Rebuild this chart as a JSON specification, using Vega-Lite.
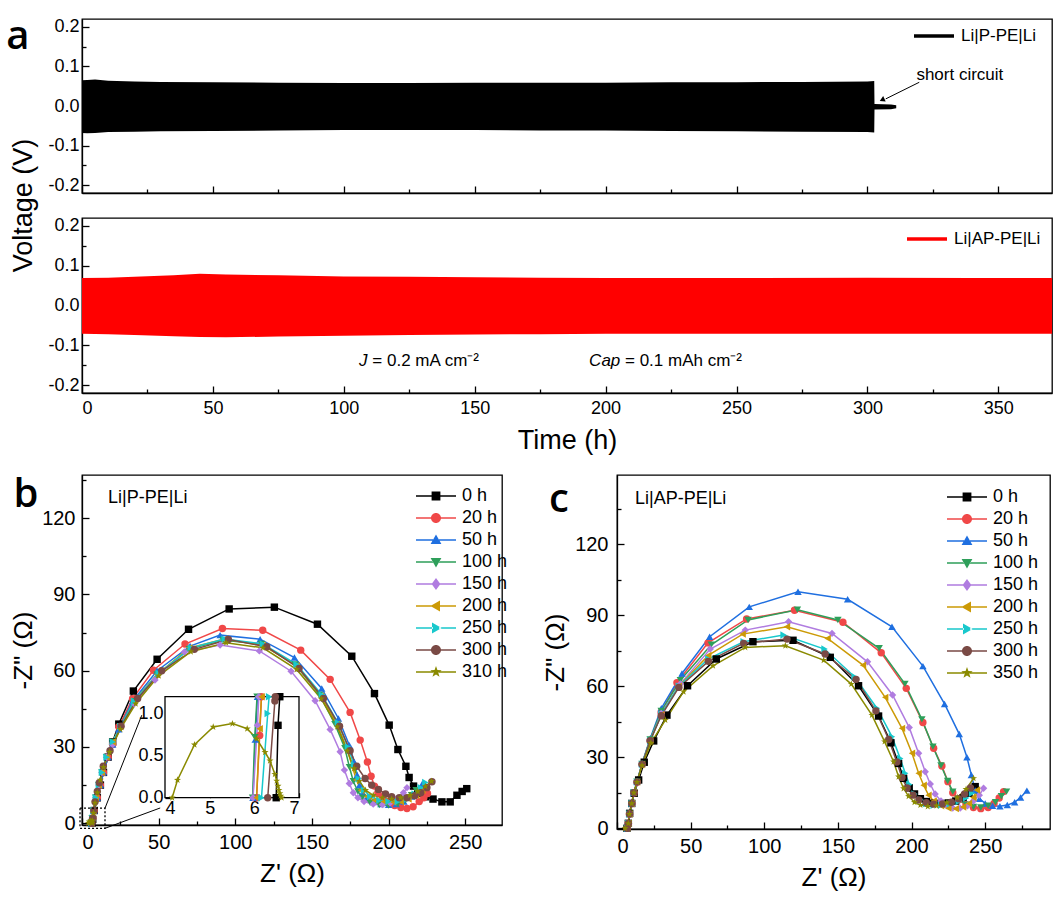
{
"$schema": "https://vega.github.io/schema/vega-lite/v6.json",
"padding": {"left": 5, "top": 13, "right": 0, "bottom": 5},
"background": "white",
"config": {
  "font": "Liberation Sans",
  "view": {"stroke": "#000000", "strokeWidth": 1.3},
  "axis": {"grid": false, "domainColor": "#000000", "domainWidth": 1.3, "tickColor": "#000000", "tickWidth": 1.3, "tickSize": -7, "labelColor": "#000000", "titleColor": "#000000", "labelFont": "Liberation Sans", "titleFont": "Liberation Sans", "titleFontWeight": "normal", "labelFontSize": 18, "titleFontSize": 27, "labelPadding": 6},
  "legend": {"labelFont": "Liberation Sans", "labelColor": "#000000", "labelFontSize": 18, "padding": 0, "symbolStrokeWidth": 0, "symbolOpacity": 1}
},
"datasets": {
  "v1": [
    {"cell":"Li|P-PE|Li","t":0,"hi":0.065,"lo":-0.068},
    {"cell":"Li|P-PE|Li","t":2,"hi":0.066,"lo":-0.069},
    {"cell":"Li|P-PE|Li","t":5,"hi":0.067,"lo":-0.068},
    {"cell":"Li|P-PE|Li","t":10,"hi":0.064,"lo":-0.066},
    {"cell":"Li|P-PE|Li","t":20,"hi":0.062,"lo":-0.065},
    {"cell":"Li|P-PE|Li","t":30,"hi":0.061,"lo":-0.064},
    {"cell":"Li|P-PE|Li","t":50,"hi":0.06,"lo":-0.063},
    {"cell":"Li|P-PE|Li","t":75,"hi":0.059,"lo":-0.062},
    {"cell":"Li|P-PE|Li","t":100,"hi":0.058,"lo":-0.061},
    {"cell":"Li|P-PE|Li","t":125,"hi":0.058,"lo":-0.061},
    {"cell":"Li|P-PE|Li","t":150,"hi":0.059,"lo":-0.061},
    {"cell":"Li|P-PE|Li","t":175,"hi":0.059,"lo":-0.062},
    {"cell":"Li|P-PE|Li","t":200,"hi":0.059,"lo":-0.062},
    {"cell":"Li|P-PE|Li","t":225,"hi":0.06,"lo":-0.063},
    {"cell":"Li|P-PE|Li","t":250,"hi":0.06,"lo":-0.064},
    {"cell":"Li|P-PE|Li","t":275,"hi":0.061,"lo":-0.065},
    {"cell":"Li|P-PE|Li","t":300,"hi":0.062,"lo":-0.066},
    {"cell":"Li|P-PE|Li","t":302.6,"hi":0.063,"lo":-0.067},
    {"cell":"Li|P-PE|Li","t":302.7,"hi":0.005,"lo":-0.009},
    {"cell":"Li|P-PE|Li","t":309,"hi":0.004,"lo":-0.008},
    {"cell":"Li|P-PE|Li","t":311,"hi":0.002,"lo":-0.006}
  ],
  "v2": [
    {"cell":"Li|AP-PE|Li","t":0,"hi":0.069,"lo":-0.071},
    {"cell":"Li|AP-PE|Li","t":10,"hi":0.07,"lo":-0.072},
    {"cell":"Li|AP-PE|Li","t":20,"hi":0.072,"lo":-0.074},
    {"cell":"Li|AP-PE|Li","t":35,"hi":0.076,"lo":-0.077},
    {"cell":"Li|AP-PE|Li","t":45,"hi":0.08,"lo":-0.079},
    {"cell":"Li|AP-PE|Li","t":55,"hi":0.078,"lo":-0.08},
    {"cell":"Li|AP-PE|Li","t":75,"hi":0.076,"lo":-0.078},
    {"cell":"Li|AP-PE|Li","t":100,"hi":0.073,"lo":-0.076},
    {"cell":"Li|AP-PE|Li","t":125,"hi":0.072,"lo":-0.074},
    {"cell":"Li|AP-PE|Li","t":150,"hi":0.071,"lo":-0.073},
    {"cell":"Li|AP-PE|Li","t":175,"hi":0.07,"lo":-0.072},
    {"cell":"Li|AP-PE|Li","t":200,"hi":0.069,"lo":-0.071},
    {"cell":"Li|AP-PE|Li","t":250,"hi":0.069,"lo":-0.071},
    {"cell":"Li|AP-PE|Li","t":300,"hi":0.07,"lo":-0.071},
    {"cell":"Li|AP-PE|Li","t":340,"hi":0.069,"lo":-0.071},
    {"cell":"Li|AP-PE|Li","t":370.5,"hi":0.069,"lo":-0.071}
  ],
  "b": [
    {"series":"0 h","zr":6.5,"zi":0},{"series":"0 h","zr":7,"zi":1.5},{"series":"0 h","zr":8,"zi":5},{"series":"0 h","zr":10,"zi":10},{"series":"0 h","zr":12,"zi":15},{"series":"0 h","zr":14,"zi":20},{"series":"0 h","zr":17,"zi":26},{"series":"0 h","zr":20,"zi":32},{"series":"0 h","zr":24,"zi":39},{"series":"0 h","zr":33.5,"zi":52},{"series":"0 h","zr":49,"zi":64.5},{"series":"0 h","zr":69.5,"zi":76.3},{"series":"0 h","zr":96,"zi":84.3},{"series":"0 h","zr":125.5,"zi":85},{"series":"0 h","zr":153.6,"zi":78.3},{"series":"0 h","zr":176,"zi":65.7},{"series":"0 h","zr":190.8,"zi":51},{"series":"0 h","zr":200.4,"zi":38.6},{"series":"0 h","zr":206.1,"zi":29},{"series":"0 h","zr":211.3,"zi":22.4},{"series":"0 h","zr":213.4,"zi":18},{"series":"0 h","zr":216.3,"zi":14.6},{"series":"0 h","zr":219,"zi":11.7},{"series":"0 h","zr":224,"zi":10.4},{"series":"0 h","zr":229,"zi":9.5},{"series":"0 h","zr":234.8,"zi":8.4},{"series":"0 h","zr":240.2,"zi":8.4},{"series":"0 h","zr":244.6,"zi":11},{"series":"0 h","zr":248,"zi":12.5},{"series":"0 h","zr":251,"zi":13.6},
    {"series":"20 h","zr":6.2,"zi":0},{"series":"20 h","zr":7,"zi":2},{"series":"20 h","zr":8,"zi":5},{"series":"20 h","zr":10,"zi":10},{"series":"20 h","zr":12,"zi":15},{"series":"20 h","zr":14,"zi":20},{"series":"20 h","zr":17,"zi":26},{"series":"20 h","zr":20,"zi":31},{"series":"20 h","zr":24,"zi":38},{"series":"20 h","zr":33,"zi":49},{"series":"20 h","zr":46.6,"zi":60.2},{"series":"20 h","zr":67.2,"zi":70.5},{"series":"20 h","zr":91.6,"zi":76.6},{"series":"20 h","zr":117.9,"zi":75.9},{"series":"20 h","zr":142.7,"zi":68.1},{"series":"20 h","zr":161.9,"zi":56.6},{"series":"20 h","zr":174.9,"zi":43.6},{"series":"20 h","zr":181.5,"zi":32.7},{"series":"20 h","zr":186.2,"zi":24.1},{"series":"20 h","zr":188.6,"zi":18.5},{"series":"20 h","zr":190.8,"zi":14.6},{"series":"20 h","zr":193,"zi":12},{"series":"20 h","zr":196,"zi":10.4},{"series":"20 h","zr":200,"zi":8.5},{"series":"20 h","zr":204,"zi":7},{"series":"20 h","zr":208,"zi":6.2},{"series":"20 h","zr":212,"zi":5.8},{"series":"20 h","zr":216,"zi":6.5},{"series":"20 h","zr":220,"zi":8.5},{"series":"20 h","zr":223,"zi":10},{"series":"20 h","zr":225.4,"zi":11.7},
    {"series":"50 h","zr":6.1,"zi":0},{"series":"50 h","zr":7,"zi":2},{"series":"50 h","zr":8,"zi":5},{"series":"50 h","zr":10,"zi":10},{"series":"50 h","zr":12,"zi":15},{"series":"50 h","zr":14,"zi":20},{"series":"50 h","zr":17,"zi":26},{"series":"50 h","zr":20,"zi":31},{"series":"50 h","zr":24,"zi":37},{"series":"50 h","zr":33,"zi":48},{"series":"50 h","zr":49,"zi":60},{"series":"50 h","zr":70.5,"zi":69.7},{"series":"50 h","zr":90.1,"zi":74},{"series":"50 h","zr":116.2,"zi":72.4},{"series":"50 h","zr":138.6,"zi":65.2},{"series":"50 h","zr":156.4,"zi":53},{"series":"50 h","zr":167.3,"zi":41.2},{"series":"50 h","zr":174.4,"zi":30.7},{"series":"50 h","zr":177.6,"zi":24.1},{"series":"50 h","zr":179.5,"zi":19},{"series":"50 h","zr":181,"zi":15},{"series":"50 h","zr":183,"zi":12},{"series":"50 h","zr":186,"zi":10},{"series":"50 h","zr":190,"zi":8.5},{"series":"50 h","zr":195,"zi":7.5},{"series":"50 h","zr":200,"zi":7.3},{"series":"50 h","zr":205,"zi":7.5},{"series":"50 h","zr":210,"zi":8.5},{"series":"50 h","zr":215,"zi":10.5},{"series":"50 h","zr":219,"zi":13},{"series":"50 h","zr":222,"zi":15.5},
    {"series":"100 h","zr":6,"zi":0},{"series":"100 h","zr":6.6,"zi":2},{"series":"100 h","zr":7.5,"zi":5},{"series":"100 h","zr":9,"zi":10},{"series":"100 h","zr":11,"zi":15},{"series":"100 h","zr":13,"zi":20},{"series":"100 h","zr":16,"zi":26},{"series":"100 h","zr":20,"zi":32},{"series":"100 h","zr":25,"zi":38},{"series":"100 h","zr":34,"zi":48},{"series":"100 h","zr":49,"zi":58.5},{"series":"100 h","zr":70,"zi":68.5},{"series":"100 h","zr":92,"zi":72},{"series":"100 h","zr":117,"zi":70.5},{"series":"100 h","zr":139,"zi":62.5},{"series":"100 h","zr":155,"zi":50.5},{"series":"100 h","zr":165,"zi":39},{"series":"100 h","zr":171.5,"zi":29.5},{"series":"100 h","zr":174.5,"zi":22},{"series":"100 h","zr":177,"zi":16.5},{"series":"100 h","zr":180,"zi":12.5},{"series":"100 h","zr":183,"zi":10},{"series":"100 h","zr":188,"zi":8},{"series":"100 h","zr":194,"zi":7.2},{"series":"100 h","zr":200,"zi":7},{"series":"100 h","zr":206,"zi":7.5},{"series":"100 h","zr":211,"zi":9},{"series":"100 h","zr":215,"zi":11},{"series":"100 h","zr":218,"zi":13},
    {"series":"150 h","zr":6,"zi":0},{"series":"150 h","zr":6.6,"zi":2},{"series":"150 h","zr":7.5,"zi":5},{"series":"150 h","zr":9,"zi":10},{"series":"150 h","zr":11,"zi":15},{"series":"150 h","zr":13,"zi":20},{"series":"150 h","zr":16,"zi":26},{"series":"150 h","zr":20,"zi":31},{"series":"150 h","zr":25,"zi":38},{"series":"150 h","zr":34,"zi":47},{"series":"150 h","zr":47.6,"zi":56.3},{"series":"150 h","zr":66.8,"zi":67.4},{"series":"150 h","zr":90.1,"zi":70.1},{"series":"150 h","zr":115.7,"zi":67.8},{"series":"150 h","zr":136.4,"zi":59.8},{"series":"150 h","zr":152.1,"zi":48.2},{"series":"150 h","zr":161.9,"zi":36.9},{"series":"150 h","zr":168.4,"zi":28.1},{"series":"150 h","zr":171.2,"zi":20.9},{"series":"150 h","zr":174.4,"zi":15.6},{"series":"150 h","zr":177,"zi":12},{"series":"150 h","zr":180,"zi":10},{"series":"150 h","zr":184,"zi":8.5},{"series":"150 h","zr":190,"zi":7.5},{"series":"150 h","zr":196,"zi":7.3},{"series":"150 h","zr":201,"zi":8},{"series":"150 h","zr":205,"zi":9.5},{"series":"150 h","zr":209.7,"zi":12},{"series":"150 h","zr":212,"zi":14},
    {"series":"200 h","zr":6.1,"zi":0},{"series":"200 h","zr":6.7,"zi":2},{"series":"200 h","zr":7.6,"zi":5},{"series":"200 h","zr":9,"zi":10},{"series":"200 h","zr":11,"zi":15},{"series":"200 h","zr":13,"zi":20},{"series":"200 h","zr":16,"zi":26},{"series":"200 h","zr":20,"zi":32},{"series":"200 h","zr":25,"zi":38},{"series":"200 h","zr":34,"zi":48},{"series":"200 h","zr":49,"zi":58.5},{"series":"200 h","zr":70,"zi":69},{"series":"200 h","zr":93,"zi":72.5},{"series":"200 h","zr":118,"zi":70},{"series":"200 h","zr":140,"zi":62},{"series":"200 h","zr":156,"zi":50},{"series":"200 h","zr":166.5,"zi":39},{"series":"200 h","zr":173,"zi":29},{"series":"200 h","zr":176.5,"zi":22},{"series":"200 h","zr":179,"zi":17},{"series":"200 h","zr":182,"zi":13},{"series":"200 h","zr":186,"zi":10.5},{"series":"200 h","zr":191,"zi":9},{"series":"200 h","zr":197,"zi":8.5},{"series":"200 h","zr":203,"zi":8.3},{"series":"200 h","zr":208,"zi":8.5},{"series":"200 h","zr":213,"zi":9.5},{"series":"200 h","zr":218,"zi":11},{"series":"200 h","zr":222,"zi":13},
    {"series":"250 h","zr":6.25,"zi":0},{"series":"250 h","zr":6.8,"zi":2},{"series":"250 h","zr":7.7,"zi":5},{"series":"250 h","zr":9,"zi":10},{"series":"250 h","zr":11,"zi":15},{"series":"250 h","zr":13,"zi":20},{"series":"250 h","zr":16,"zi":26},{"series":"250 h","zr":20,"zi":32},{"series":"250 h","zr":25,"zi":38},{"series":"250 h","zr":34,"zi":48},{"series":"250 h","zr":50,"zi":59},{"series":"250 h","zr":71,"zi":69},{"series":"250 h","zr":93,"zi":72.5},{"series":"250 h","zr":118,"zi":70.5},{"series":"250 h","zr":140,"zi":62.5},{"series":"250 h","zr":156.5,"zi":50.5},{"series":"250 h","zr":167,"zi":39.5},{"series":"250 h","zr":173.5,"zi":30},{"series":"250 h","zr":177.5,"zi":23},{"series":"250 h","zr":180.5,"zi":17.5},{"series":"250 h","zr":184,"zi":13},{"series":"250 h","zr":188,"zi":10.5},{"series":"250 h","zr":194,"zi":9},{"series":"250 h","zr":200,"zi":8.5},{"series":"250 h","zr":206,"zi":8.5},{"series":"250 h","zr":212,"zi":9.5},{"series":"250 h","zr":217,"zi":11.5},{"series":"250 h","zr":221,"zi":14},{"series":"250 h","zr":224,"zi":16},
    {"series":"300 h","zr":6.45,"zi":0},{"series":"300 h","zr":7,"zi":2},{"series":"300 h","zr":7.8,"zi":5},{"series":"300 h","zr":8.5,"zi":8.4},{"series":"300 h","zr":10,"zi":12.5},{"series":"300 h","zr":11.3,"zi":15.9},{"series":"300 h","zr":13.9,"zi":22.4},{"series":"300 h","zr":18.3,"zi":28.5},{"series":"300 h","zr":25.5,"zi":38.2},{"series":"300 h","zr":36.3,"zi":49.1},{"series":"300 h","zr":52,"zi":60},{"series":"300 h","zr":73.3,"zi":68.4},{"series":"300 h","zr":95.5,"zi":72.3},{"series":"300 h","zr":120.5,"zi":69.4},{"series":"300 h","zr":141.6,"zi":60.9},{"series":"300 h","zr":157.5,"zi":49.1},{"series":"300 h","zr":168,"zi":38.2},{"series":"300 h","zr":174.9,"zi":28.5},{"series":"300 h","zr":179.2,"zi":22.4},{"series":"300 h","zr":184.7,"zi":17.6},{"series":"300 h","zr":189,"zi":15},{"series":"300 h","zr":193.4,"zi":13.3},{"series":"300 h","zr":198,"zi":11.5},{"series":"300 h","zr":202,"zi":10.4},{"series":"300 h","zr":207,"zi":10},{"series":"300 h","zr":212,"zi":10},{"series":"300 h","zr":217,"zi":10.8},{"series":"300 h","zr":221,"zi":12},{"series":"300 h","zr":225,"zi":14},{"series":"300 h","zr":228.3,"zi":16.3},
    {"series":"310 h","zr":4.2,"zi":0},{"series":"310 h","zr":4.7,"zi":0.6},{"series":"310 h","zr":5.5,"zi":0.9},{"series":"310 h","zr":6.2,"zi":0.6},{"series":"310 h","zr":6.6,"zi":0.05},{"series":"310 h","zr":6.8,"zi":1},{"series":"310 h","zr":7.5,"zi":4},{"series":"310 h","zr":8.5,"zi":8},{"series":"310 h","zr":10,"zi":12},{"series":"310 h","zr":12,"zi":17},{"series":"310 h","zr":14,"zi":22},{"series":"310 h","zr":18,"zi":28},{"series":"310 h","zr":25,"zi":37},{"series":"310 h","zr":35,"zi":47},{"series":"310 h","zr":50,"zi":58},{"series":"310 h","zr":71,"zi":67.5},{"series":"310 h","zr":94,"zi":71},{"series":"310 h","zr":118,"zi":69},{"series":"310 h","zr":140,"zi":60.5},{"series":"310 h","zr":156,"zi":49},{"series":"310 h","zr":166.5,"zi":38},{"series":"310 h","zr":173,"zi":28.5},{"series":"310 h","zr":177.5,"zi":21.5},{"series":"310 h","zr":181,"zi":16.5},{"series":"310 h","zr":185,"zi":13},{"series":"310 h","zr":190,"zi":11},{"series":"310 h","zr":196,"zi":10},{"series":"310 h","zr":202,"zi":9.5},{"series":"310 h","zr":208,"zi":10},{"series":"310 h","zr":214,"zi":11},{"series":"310 h","zr":219,"zi":12.5},{"series":"310 h","zr":224,"zi":14.5},{"series":"310 h","zr":228,"zi":16.5}
  ],
  "bi": [
    {"series":"0 h","zr":6.49,"zi":0},{"series":"0 h","zr":6.53,"zi":0.86},{"series":"0 h","zr":6.57,"zi":1.2},
    {"series":"20 h","zr":6.05,"zi":0},{"series":"20 h","zr":6.12,"zi":0.74},{"series":"20 h","zr":6.16,"zi":1.2},
    {"series":"50 h","zr":5.97,"zi":0},{"series":"50 h","zr":6.02,"zi":0.69},{"series":"50 h","zr":6.07,"zi":1.2},
    {"series":"100 h","zr":5.96,"zi":0},{"series":"100 h","zr":6.01,"zi":0.72},{"series":"100 h","zr":6.06,"zi":1.2},
    {"series":"150 h","zr":5.97,"zi":0},{"series":"150 h","zr":6.07,"zi":0.86},{"series":"150 h","zr":6.1,"zi":1.2},
    {"series":"200 h","zr":6.05,"zi":0},{"series":"200 h","zr":6.12,"zi":0.82},{"series":"200 h","zr":6.16,"zi":1.2},
    {"series":"250 h","zr":6.16,"zi":0},{"series":"250 h","zr":6.3,"zi":1},{"series":"250 h","zr":6.33,"zi":1.2},
    {"series":"300 h","zr":6.3,"zi":0},{"series":"300 h","zr":6.46,"zi":1.15},{"series":"300 h","zr":6.47,"zi":1.2},
    {"series":"310 h","zr":4.16,"zi":0},{"series":"310 h","zr":4.28,"zi":0.21},{"series":"310 h","zr":4.66,"zi":0.63},{"series":"310 h","zr":5.08,"zi":0.84},{"series":"310 h","zr":5.51,"zi":0.88},{"series":"310 h","zr":5.84,"zi":0.82},{"series":"310 h","zr":6.05,"zi":0.7},{"series":"310 h","zr":6.24,"zi":0.54},{"series":"310 h","zr":6.35,"zi":0.44},{"series":"310 h","zr":6.46,"zi":0.28},{"series":"310 h","zr":6.5,"zi":0.2},{"series":"310 h","zr":6.53,"zi":0.14},{"series":"310 h","zr":6.55,"zi":0.09},{"series":"310 h","zr":6.57,"zi":0.05},{"series":"310 h","zr":6.59,"zi":0.02},{"series":"310 h","zr":6.61,"zi":0}
  ],
  "c": [
    {"series":"0 h","zr":6.8,"zi":0},{"series":"0 h","zr":7.7,"zi":2.1},{"series":"0 h","zr":8.6,"zi":6.3},{"series":"0 h","zr":10,"zi":10.5},{"series":"0 h","zr":11.7,"zi":14.8},{"series":"0 h","zr":14.7,"zi":20.4},{"series":"0 h","zr":18.5,"zi":27.9},{"series":"0 h","zr":24.9,"zi":36.9},{"series":"0 h","zr":33.9,"zi":47.8},{"series":"0 h","zr":47.9,"zi":60.2},{"series":"0 h","zr":67.4,"zi":71.5},{"series":"0 h","zr":92.3,"zi":78.8},{"series":"0 h","zr":119.5,"zi":79.4},{"series":"0 h","zr":144.8,"zi":72.2},{"series":"0 h","zr":164,"zi":60.2},{"series":"0 h","zr":177.6,"zi":47.4},{"series":"0 h","zr":186,"zi":36.1},{"series":"0 h","zr":191.2,"zi":27.4},{"series":"0 h","zr":194.6,"zi":21.1},{"series":"0 h","zr":198.4,"zi":17.1},{"series":"0 h","zr":202,"zi":14.5},{"series":"0 h","zr":206,"zi":12.5},{"series":"0 h","zr":210,"zi":11.3},{"series":"0 h","zr":215,"zi":10.6},{"series":"0 h","zr":220,"zi":10.5},{"series":"0 h","zr":225,"zi":10.7},{"series":"0 h","zr":230,"zi":11.5},{"series":"0 h","zr":235,"zi":12.8},{"series":"0 h","zr":239,"zi":14.8},{"series":"0 h","zr":243.2,"zi":17.6},
    {"series":"20 h","zr":6.9,"zi":0},{"series":"20 h","zr":7.7,"zi":2},{"series":"20 h","zr":8.5,"zi":6},{"series":"20 h","zr":10,"zi":10.5},{"series":"20 h","zr":11.5,"zi":15},{"series":"20 h","zr":13.6,"zi":19.5},{"series":"20 h","zr":17,"zi":27},{"series":"20 h","zr":22.5,"zi":37},{"series":"20 h","zr":30,"zi":49},{"series":"20 h","zr":40.7,"zi":61.5},{"series":"20 h","zr":61.8,"zi":78.3},{"series":"20 h","zr":88,"zi":88.4},{"series":"20 h","zr":120.5,"zi":92.1},{"series":"20 h","zr":153.4,"zi":87},{"series":"20 h","zr":179.4,"zi":74.1},{"series":"20 h","zr":196.4,"zi":59.1},{"series":"20 h","zr":207.7,"zi":44.7},{"series":"20 h","zr":215,"zi":33.8},{"series":"20 h","zr":220.6,"zi":26.3},{"series":"20 h","zr":224.7,"zi":19.7},{"series":"20 h","zr":228,"zi":15},{"series":"20 h","zr":232,"zi":12},{"series":"20 h","zr":237,"zi":10},{"series":"20 h","zr":242,"zi":8.8},{"series":"20 h","zr":247,"zi":8.3},{"series":"20 h","zr":252,"zi":8.8},{"series":"20 h","zr":256,"zi":10.5},{"series":"20 h","zr":259.5,"zi":12.8},{"series":"20 h","zr":262.5,"zi":15.5},
    {"series":"50 h","zr":6.9,"zi":0},{"series":"50 h","zr":7.7,"zi":2},{"series":"50 h","zr":8.5,"zi":6},{"series":"50 h","zr":10,"zi":10.5},{"series":"50 h","zr":11.5,"zi":15},{"series":"50 h","zr":13.6,"zi":19.7},{"series":"50 h","zr":17,"zi":27.4},{"series":"50 h","zr":22.6,"zi":38},{"series":"50 h","zr":30.1,"zi":50.7},{"series":"50 h","zr":44.1,"zi":65.4},{"series":"50 h","zr":62.9,"zi":80.9},{"series":"50 h","zr":89.8,"zi":93.5},{"series":"50 h","zr":122.9,"zi":99.9},{"series":"50 h","zr":156.6,"zi":96.7},{"series":"50 h","zr":186.7,"zi":85.1},{"series":"50 h","zr":207.7,"zi":68.5},{"series":"50 h","zr":222.4,"zi":52.5},{"series":"50 h","zr":232.4,"zi":39.8},{"series":"50 h","zr":237.6,"zi":30},{"series":"50 h","zr":240.6,"zi":22.5},{"series":"50 h","zr":243.2,"zi":16},{"series":"50 h","zr":246,"zi":12.5},{"series":"50 h","zr":250,"zi":10.5},{"series":"50 h","zr":255,"zi":9.5},{"series":"50 h","zr":260,"zi":9.3},{"series":"50 h","zr":265,"zi":9.8},{"series":"50 h","zr":270,"zi":11},{"series":"50 h","zr":274,"zi":13},{"series":"50 h","zr":278.3,"zi":15.9},
    {"series":"100 h","zr":6.9,"zi":0},{"series":"100 h","zr":7.7,"zi":2},{"series":"100 h","zr":8.5,"zi":6},{"series":"100 h","zr":10,"zi":10.5},{"series":"100 h","zr":11.5,"zi":15},{"series":"100 h","zr":13.6,"zi":19.7},{"series":"100 h","zr":17,"zi":27.2},{"series":"100 h","zr":22.5,"zi":37.5},{"series":"100 h","zr":30,"zi":49.5},{"series":"100 h","zr":43,"zi":62.5},{"series":"100 h","zr":64,"zi":77.5},{"series":"100 h","zr":89,"zi":88},{"series":"100 h","zr":122.5,"zi":92.3},{"series":"100 h","zr":150,"zi":88},{"series":"100 h","zr":178,"zi":76},{"series":"100 h","zr":195.5,"zi":61},{"series":"100 h","zr":207,"zi":46},{"series":"100 h","zr":214.5,"zi":34.5},{"series":"100 h","zr":220,"zi":26.5},{"series":"100 h","zr":224.5,"zi":20},{"series":"100 h","zr":228,"zi":15.5},{"series":"100 h","zr":232,"zi":12},{"series":"100 h","zr":237,"zi":10},{"series":"100 h","zr":242,"zi":9},{"series":"100 h","zr":247,"zi":8.8},{"series":"100 h","zr":252,"zi":9.5},{"series":"100 h","zr":257,"zi":11},{"series":"100 h","zr":261,"zi":13.5},{"series":"100 h","zr":264.5,"zi":15.5},
    {"series":"150 h","zr":6.9,"zi":0},{"series":"150 h","zr":7.7,"zi":2},{"series":"150 h","zr":8.5,"zi":6},{"series":"150 h","zr":10,"zi":10.5},{"series":"150 h","zr":11.5,"zi":15},{"series":"150 h","zr":13.6,"zi":19.5},{"series":"150 h","zr":17,"zi":27},{"series":"150 h","zr":22.5,"zi":37},{"series":"150 h","zr":30,"zi":48.5},{"series":"150 h","zr":43,"zi":61},{"series":"150 h","zr":63.3,"zi":75.7},{"series":"150 h","zr":87.1,"zi":83.7},{"series":"150 h","zr":116.5,"zi":87.2},{"series":"150 h","zr":146,"zi":82.3},{"series":"150 h","zr":170.1,"zi":70.3},{"series":"150 h","zr":187.1,"zi":56.3},{"series":"150 h","zr":198.4,"zi":42.6},{"series":"150 h","zr":204.8,"zi":31.7},{"series":"150 h","zr":209.3,"zi":23.9},{"series":"150 h","zr":212.7,"zi":18.7},{"series":"150 h","zr":216,"zi":14.5},{"series":"150 h","zr":220,"zi":11.5},{"series":"150 h","zr":224,"zi":9.5},{"series":"150 h","zr":228,"zi":8.6},{"series":"150 h","zr":233,"zi":8.5},{"series":"150 h","zr":238,"zi":9.5},{"series":"150 h","zr":242,"zi":11.5},{"series":"150 h","zr":246,"zi":14},{"series":"150 h","zr":248.9,"zi":16.9},
    {"series":"200 h","zr":6.9,"zi":0},{"series":"200 h","zr":7.7,"zi":2},{"series":"200 h","zr":8.5,"zi":6},{"series":"200 h","zr":10,"zi":10.5},{"series":"200 h","zr":11.5,"zi":15},{"series":"200 h","zr":13.6,"zi":19.5},{"series":"200 h","zr":17,"zi":27},{"series":"200 h","zr":22.5,"zi":37},{"series":"200 h","zr":30,"zi":48},{"series":"200 h","zr":42,"zi":60},{"series":"200 h","zr":62,"zi":73},{"series":"200 h","zr":85.3,"zi":82},{"series":"200 h","zr":115.4,"zi":85.1},{"series":"200 h","zr":143,"zi":80.2},{"series":"200 h","zr":167,"zi":68.9},{"series":"200 h","zr":182.1,"zi":55.3},{"series":"200 h","zr":193.5,"zi":42.2},{"series":"200 h","zr":200.3,"zi":31.7},{"series":"200 h","zr":204.8,"zi":23.2},{"series":"200 h","zr":208.2,"zi":18.2},{"series":"200 h","zr":211.5,"zi":14},{"series":"200 h","zr":215,"zi":11.5},{"series":"200 h","zr":220,"zi":9.5},{"series":"200 h","zr":225,"zi":8.5},{"series":"200 h","zr":230,"zi":8.3},{"series":"200 h","zr":235,"zi":9},{"series":"200 h","zr":239,"zi":10.5},{"series":"200 h","zr":242,"zi":13},{"series":"200 h","zr":244.4,"zi":16.2},
    {"series":"250 h","zr":6.9,"zi":0},{"series":"250 h","zr":7.7,"zi":2},{"series":"250 h","zr":8.5,"zi":6},{"series":"250 h","zr":10,"zi":10.5},{"series":"250 h","zr":11.5,"zi":15},{"series":"250 h","zr":13.6,"zi":19.5},{"series":"250 h","zr":17,"zi":27},{"series":"250 h","zr":22.5,"zi":37},{"series":"250 h","zr":30,"zi":48},{"series":"250 h","zr":42,"zi":60},{"series":"250 h","zr":62,"zi":71.5},{"series":"250 h","zr":86,"zi":78.8},{"series":"250 h","zr":113.1,"zi":81.6},{"series":"250 h","zr":140.9,"zi":75.7},{"series":"250 h","zr":161.3,"zi":64},{"series":"250 h","zr":176.5,"zi":50.7},{"series":"250 h","zr":186.7,"zi":38.7},{"series":"250 h","zr":192.3,"zi":29.5},{"series":"250 h","zr":195.7,"zi":23.2},{"series":"250 h","zr":198.5,"zi":18.5},{"series":"250 h","zr":202,"zi":14.5},{"series":"250 h","zr":206,"zi":12},{"series":"250 h","zr":210,"zi":10.5},{"series":"250 h","zr":215,"zi":9.7},{"series":"250 h","zr":220,"zi":9.7},{"series":"250 h","zr":226,"zi":10.3},{"series":"250 h","zr":232,"zi":11.3},{"series":"250 h","zr":237,"zi":12.8},{"series":"250 h","zr":241,"zi":14.8},
    {"series":"300 h","zr":6.9,"zi":0},{"series":"300 h","zr":7.7,"zi":2},{"series":"300 h","zr":8.5,"zi":6},{"series":"300 h","zr":10,"zi":10.5},{"series":"300 h","zr":11.5,"zi":15},{"series":"300 h","zr":13.6,"zi":19.5},{"series":"300 h","zr":17,"zi":27},{"series":"300 h","zr":22.5,"zi":37},{"series":"300 h","zr":30,"zi":47.5},{"series":"300 h","zr":42,"zi":59.5},{"series":"300 h","zr":62,"zi":70.5},{"series":"300 h","zr":86,"zi":78.1},{"series":"300 h","zr":115.4,"zi":79.9},{"series":"300 h","zr":141.3,"zi":73.6},{"series":"300 h","zr":162.3,"zi":62.9},{"series":"300 h","zr":175.8,"zi":49.6},{"series":"300 h","zr":184.5,"zi":37.5},{"series":"300 h","zr":190,"zi":28},{"series":"300 h","zr":193.5,"zi":21.5},{"series":"300 h","zr":197,"zi":17},{"series":"300 h","zr":201,"zi":14},{"series":"300 h","zr":205,"zi":12},{"series":"300 h","zr":210,"zi":10.8},{"series":"300 h","zr":215,"zi":10.2},{"series":"300 h","zr":221,"zi":10.3},{"series":"300 h","zr":227,"zi":11},{"series":"300 h","zr":232,"zi":12.5},{"series":"300 h","zr":236,"zi":14.5},{"series":"300 h","zr":240,"zi":17},
    {"series":"350 h","zr":5.5,"zi":0},{"series":"350 h","zr":7.7,"zi":2},{"series":"350 h","zr":8.5,"zi":6},{"series":"350 h","zr":10,"zi":10.5},{"series":"350 h","zr":11.5,"zi":15},{"series":"350 h","zr":13.6,"zi":19.5},{"series":"350 h","zr":17,"zi":26.5},{"series":"350 h","zr":23,"zi":36},{"series":"350 h","zr":32.8,"zi":45.7},{"series":"350 h","zr":45.2,"zi":57.7},{"series":"350 h","zr":65.2,"zi":68.6},{"series":"350 h","zr":87.1,"zi":76.4},{"series":"350 h","zr":114.3,"zi":77.1},{"series":"350 h","zr":140.3,"zi":71},{"series":"350 h","zr":159.1,"zi":60.9},{"series":"350 h","zr":173.1,"zi":47.8},{"series":"350 h","zr":181.7,"zi":36.6},{"series":"350 h","zr":187.8,"zi":28.1},{"series":"350 h","zr":191.2,"zi":21.8},{"series":"350 h","zr":194.6,"zi":16.8},{"series":"350 h","zr":198,"zi":13.5},{"series":"350 h","zr":202,"zi":11},{"series":"350 h","zr":206,"zi":9.8},{"series":"350 h","zr":211,"zi":9.2},{"series":"350 h","zr":217,"zi":9.5},{"series":"350 h","zr":224,"zi":10.8},{"series":"350 h","zr":231,"zi":13},{"series":"350 h","zr":237,"zi":16.5},{"series":"350 h","zr":242.1,"zi":21.1}
  ]
},
"spacing": 20,
"resolve": {"scale": {"color": "independent", "shape": "independent"}},
"vconcat": [
  {
    "spacing": 25,
    "bounds": "flush",
    "resolve": {"scale": {"color": "independent"}},
    "vconcat": [
      {
        "width": 970, "height": 174,
        "resolve": {"axis": {"x": "independent", "y": "independent"}},
        "layer": [
          {"data": {"name": "v1"}, "mark": {"type": "area"},
           "encoding": {
             "x": {"field": "t", "type": "quantitative", "scale": {"domain": [0, 370.5], "nice": false, "zero": false}, "axis": {"values": [0,50,100,150,200,250,300,350], "labels": false, "title": null}},
             "y": {"field": "hi", "type": "quantitative", "scale": {"domain": [-0.22, 0.22], "nice": false, "zero": false}, "axis": {"values": [-0.2,-0.1,0,0.1,0.2], "labelExpr": "datum.value < 0 ? '-' + format(-datum.value, '.1f') : format(datum.value, '.1f')", "title": null, "labelPadding": 10}},
             "y2": {"field": "lo"},
             "color": {"field": "cell", "type": "nominal", "scale": {"domain": ["Li|P-PE|Li"], "range": ["#000000"]},
               "legend": {"title": null, "orient": "none", "legendX": 830, "legendY": -5, "labelFontSize": 17, "labelOffset": 5, "symbolSize": 1600,
                 "encode": {"symbols": {"update": {"shape": {"value": "stroke"}, "stroke": {"value": "#000000"}, "strokeWidth": {"value": 3.5}, "size": {"value": 1600}}}}}}
           }},
          {"data": {"values": [{}]}, "mark": {"type": "rule", "color": "#000000", "strokeWidth": 1},
           "encoding": {"x": {"datum": 319.8, "type": "quantitative", "scale": {"domain": [0, 370.5], "nice": false, "zero": false}, "axis": null}, "y": {"datum": 0.06, "type": "quantitative", "scale": {"domain": [-0.22, 0.22], "nice": false, "zero": false}, "axis": null}, "x2": {"datum": 307}, "y2": {"datum": 0.018}}},
          {"data": {"values": [{}]}, "mark": {"type": "point", "shape": "triangle", "filled": true, "color": "#000000", "size": 35, "angle": 245, "opacity": 1},
           "encoding": {"x": {"datum": 305.9, "type": "quantitative", "scale": {"domain": [0, 370.5], "nice": false, "zero": false}, "axis": null}, "y": {"datum": 0.0165, "type": "quantitative", "scale": {"domain": [-0.22, 0.22], "nice": false, "zero": false}, "axis": null}}},
          {"data": {"values": [{}]}, "mark": {"type": "text", "fontSize": 17, "align": "left", "baseline": "middle", "color": "#000000"},
           "encoding": {"x": {"datum": 318.7, "type": "quantitative", "scale": {"domain": [0, 370.5], "nice": false, "zero": false}, "axis": {"orient": "bottom", "values": [25,75,125,175,225,275,325], "labels": false, "domain": false, "title": null, "tickSize": -4}}, "y": {"datum": 0.079, "type": "quantitative", "scale": {"domain": [-0.22, 0.22], "nice": false, "zero": false}, "axis": {"orient": "left", "values": [-0.15,-0.05,0.05,0.15], "labels": false, "domain": false, "title": null, "tickSize": -4}}, "text": {"value": "short circuit"}}},
          {"data": {"values": [{}]}, "mark": {"type": "text", "font": "Open Sans", "fontSize": 40, "fontWeight": 600, "align": "center", "baseline": "alphabetic", "color": "#000000"},
           "encoding": {"x": {"datum": -24.5, "type": "quantitative", "scale": {"domain": [0, 370.5], "nice": false, "zero": false}, "axis": null}, "y": {"datum": 0.144, "type": "quantitative", "scale": {"domain": [-0.22, 0.22], "nice": false, "zero": false}, "axis": null}, "text": {"value": "a"}}}
        ]
      },
      {
        "width": 970, "height": 175,
        "resolve": {"axis": {"x": "independent", "y": "independent"}},
        "layer": [
          {"data": {"name": "v2"}, "mark": {"type": "area"},
           "encoding": {
             "x": {"field": "t", "type": "quantitative", "scale": {"domain": [0, 370.5], "nice": false, "zero": false}, "axis": {"values": [0,50,100,150,200,250,300,350], "title": "Time (h)", "labelPadding": 13, "titlePadding": 10}},
             "y": {"field": "hi", "type": "quantitative", "scale": {"domain": [-0.22, 0.22], "nice": false, "zero": false}, "axis": {"values": [-0.2,-0.1,0,0.1,0.2], "labelExpr": "datum.value < 0 ? '-' + format(-datum.value, '.1f') : format(datum.value, '.1f')", "title": "Voltage (V)", "titleY": -13, "labelPadding": 10, "titlePadding": 10}},
             "y2": {"field": "lo"},
             "color": {"field": "cell", "type": "nominal", "scale": {"domain": ["Li|AP-PE|Li"], "range": ["#ff0000"]},
               "legend": {"title": null, "orient": "none", "legendX": 823, "legendY": -1, "labelFontSize": 17, "labelOffset": 5, "symbolSize": 1600,
                 "encode": {"symbols": {"update": {"shape": {"value": "stroke"}, "stroke": {"value": "#ff0000"}, "strokeWidth": {"value": 3.5}, "size": {"value": 1600}}}}}}
           }},
          {"data": {"values": [{}]}, "mark": {"type": "text", "fontSize": 17, "fontStyle": "italic", "align": "left", "baseline": "alphabetic", "color": "#000000"},
           "encoding": {"x": {"datum": 105.8, "type": "quantitative", "scale": {"domain": [0, 370.5], "nice": false, "zero": false}, "axis": {"orient": "bottom", "values": [25,75,125,175,225,275,325], "labels": false, "domain": false, "title": null, "tickSize": -4}}, "y": {"datum": -0.153, "type": "quantitative", "scale": {"domain": [-0.22, 0.22], "nice": false, "zero": false}, "axis": {"orient": "left", "values": [-0.15,-0.05,0.05,0.15], "labels": false, "domain": false, "title": null, "tickSize": -4}}, "text": {"value": "J"}}},
          {"data": {"values": [{}]}, "mark": {"type": "text", "fontSize": 17, "align": "left", "baseline": "alphabetic", "color": "#000000"},
           "encoding": {"x": {"datum": 110.9, "type": "quantitative", "scale": {"domain": [0, 370.5], "nice": false, "zero": false}, "axis": null}, "y": {"datum": -0.153, "type": "quantitative", "scale": {"domain": [-0.22, 0.22], "nice": false, "zero": false}, "axis": null}, "text": {"value": "= 0.2 mA cm⁻²"}}},
          {"data": {"values": [{}]}, "mark": {"type": "text", "fontSize": 17, "fontStyle": "italic", "align": "left", "baseline": "alphabetic", "color": "#000000"},
           "encoding": {"x": {"datum": 193.7, "type": "quantitative", "scale": {"domain": [0, 370.5], "nice": false, "zero": false}, "axis": null}, "y": {"datum": -0.153, "type": "quantitative", "scale": {"domain": [-0.22, 0.22], "nice": false, "zero": false}, "axis": null}, "text": {"value": "Cap"}}},
          {"data": {"values": [{}]}, "mark": {"type": "text", "fontSize": 17, "align": "left", "baseline": "alphabetic", "color": "#000000"},
           "encoding": {"x": {"datum": 207.4, "type": "quantitative", "scale": {"domain": [0, 370.5], "nice": false, "zero": false}, "axis": null}, "y": {"datum": -0.153, "type": "quantitative", "scale": {"domain": [-0.22, 0.22], "nice": false, "zero": false}, "axis": null}, "text": {"value": "= 0.1 mAh cm⁻²"}}}
        ]
      }
    ]
  },
  {
    "spacing": 115,
    "bounds": "flush",
    "resolve": {"scale": {"color": "independent", "shape": "independent"}},
    "hconcat": [
      {
        "width": 420, "height": 350,
        "resolve": {"scale": {"x": "independent", "y": "independent", "color": "independent", "shape": "independent"}, "axis": {"x": "independent", "y": "independent"}},
        "layer": [
          {"resolve": {"axis": {"x": "independent", "y": "independent"}, "scale": {"color": "independent", "shape": "independent"}},
           "layer": [
            {"data": {"name": "b"}, "mark": {"type": "line", "strokeWidth": 1.5},
             "encoding": {
               "x": {"field": "zr", "type": "quantitative", "scale": {"domain": [0, 274], "nice": false, "zero": false}, "axis": {"values": [0,50,100,150,200,250], "title": "Z' (Ω)", "labelFontSize": 20, "titleFontSize": 26, "labelPadding": 14, "titlePadding": 8}},
               "y": {"field": "zi", "type": "quantitative", "scale": {"domain": [-0.7, 137], "nice": false, "zero": false}, "axis": {"values": [0,30,60,90,120], "title": "-Z\" (Ω)", "labelFontSize": 20, "titleFontSize": 26, "labelPadding": 14, "titlePadding": 5}},
               "color": {"field": "series", "type": "nominal", "scale": {"domain": ["0 h","20 h","50 h","100 h","150 h","200 h","250 h","300 h","310 h"], "range": ["#000000","#F04848","#1F6FE0","#2E9F5A","#B07CE0","#CC9A06","#18C8CC","#7A4A45","#8A8A00"]}, "legend": null}
             }},
            {"data": {"name": "b"}, "mark": {"type": "point", "filled": true, "size": 55, "opacity": 1},
             "encoding": {
               "x": {"field": "zr", "type": "quantitative", "scale": {"domain": [0, 274], "nice": false, "zero": false}, "axis": null},
               "y": {"field": "zi", "type": "quantitative", "scale": {"domain": [-0.7, 137], "nice": false, "zero": false}, "axis": null},
               "color": {"field": "series", "type": "nominal", "scale": {"domain": ["0 h","20 h","50 h","100 h","150 h","200 h","250 h","300 h","310 h"], "range": ["#000000","#F04848","#1F6FE0","#2E9F5A","#B07CE0","#CC9A06","#18C8CC","#7A4A45","#8A8A00"]}, "legend": null},
               "shape": {"field": "series", "type": "nominal", "scale": {"domain": ["0 h","20 h","50 h","100 h","150 h","200 h","250 h","300 h","310 h"], "range": ["square","circle","triangle-up","triangle-down","diamond","triangle-left","triangle-right","circle","M0,-1L0.235,-0.324L0.951,-0.309L0.38,0.124L0.588,0.809L0,0.4L-0.588,0.809L-0.38,0.124L-0.951,-0.309L-0.235,-0.324Z"]}, "legend": null}
             }},
            {"data": {"name": "b"}, "transform": [{"filter": "false"}], "mark": {"type": "point", "filled": true, "size": 55, "opacity": 1},
             "encoding": {
               "color": {"field": "series", "type": "nominal", "scale": {"domain": ["0 h","20 h","50 h","100 h","150 h","200 h","250 h","300 h","310 h"], "range": ["#000000","#F04848","#1F6FE0","#2E9F5A","#B07CE0","#CC9A06","#18C8CC","#7A4A45","#8A8A00"]},
                 "legend": {"title": null, "orient": "none", "legendX": 344, "legendY": 11, "labelFontSize": 18, "labelOffset": 16, "rowPadding": 3, "symbolSize": 400, "symbolStrokeWidth": 0}},
               "shape": {"field": "series", "type": "nominal", "scale": {"domain": ["0 h","20 h","50 h","100 h","150 h","200 h","250 h","300 h","310 h"], "range": [
                 "M-2,-0.08H-0.3V0.08H-2Z M0.3,-0.08H2V0.08H0.3Z M-0.44,-0.44H0.44V0.44H-0.44Z",
                 "M-2,-0.08H-0.3V0.08H-2Z M0.3,-0.08H2V0.08H0.3Z M-0.5,0A0.5,0.5,0,1,1,0.5,0A0.5,0.5,0,1,1,-0.5,0Z",
                 "M-2,-0.08H-0.3V0.08H-2Z M0.3,-0.08H2V0.08H0.3Z M0,-0.56L0.54,0.4L-0.54,0.4Z",
                 "M-2,-0.08H-0.3V0.08H-2Z M0.3,-0.08H2V0.08H0.3Z M0,0.56L0.54,-0.4L-0.54,-0.4Z",
                 "M-2,-0.08H-0.3V0.08H-2Z M0.3,-0.08H2V0.08H0.3Z M0,-0.6L0.44,0L0,0.6L-0.44,0Z",
                 "M-2,-0.08H-0.3V0.08H-2Z M0.3,-0.08H2V0.08H0.3Z M-0.56,0L0.4,-0.54L0.4,0.54Z",
                 "M-2,-0.08H-0.3V0.08H-2Z M0.3,-0.08H2V0.08H0.3Z M0.56,0L-0.4,-0.54L-0.4,0.54Z",
                 "M-2,-0.08H-0.3V0.08H-2Z M0.3,-0.08H2V0.08H0.3Z M-0.5,0A0.5,0.5,0,1,1,0.5,0A0.5,0.5,0,1,1,-0.5,0Z",
                 "M-2,-0.08H-0.3V0.08H-2Z M0.3,-0.08H2V0.08H0.3Z M0,-0.6L0.14,-0.2L0.57,-0.186L0.228,0.074L0.352,0.486L0,0.24L-0.352,0.486L-0.228,0.074L-0.57,-0.186L-0.14,-0.2Z"]},
                 "legend": {"title": null, "orient": "none", "legendX": 344, "legendY": 11, "labelFontSize": 18, "labelOffset": 16, "rowPadding": 3, "symbolSize": 400, "symbolStrokeWidth": 0}}
             }},
            {"data": {"values": [{}]}, "mark": {"type": "rect", "fill": "transparent", "stroke": "#000000", "strokeWidth": 1.3, "strokeDash": [2, 2]},
             "encoding": {"x": {"datum": -1.3, "type": "quantitative", "scale": {"domain": [0, 274], "nice": false, "zero": false}, "axis": {"orient": "bottom", "values": [25,75,125,175,225], "labels": false, "domain": false, "title": null, "tickSize": -4}}, "x2": {"datum": 15}, "y": {"datum": -2, "type": "quantitative", "scale": {"domain": [-0.7, 137], "nice": false, "zero": false}, "axis": {"orient": "left", "values": [15,45,75,105,135], "labels": false, "domain": false, "title": null, "tickSize": -4}}, "y2": {"datum": 5.9}}},
            {"data": {"values": [{}]}, "mark": {"type": "rule", "color": "#000000", "strokeWidth": 1},
             "encoding": {"x": {"datum": 15, "type": "quantitative", "scale": {"domain": [0, 274], "nice": false, "zero": false}, "axis": null}, "x2": {"datum": 39}, "y": {"datum": 5.9, "type": "quantitative", "scale": {"domain": [-0.7, 137], "nice": false, "zero": false}, "axis": null}, "y2": {"datum": 42.5}}},
            {"data": {"values": [{}]}, "mark": {"type": "rule", "color": "#000000", "strokeWidth": 1},
             "encoding": {"x": {"datum": 15, "type": "quantitative", "scale": {"domain": [0, 274], "nice": false, "zero": false}, "axis": null}, "x2": {"datum": 51}, "y": {"datum": -2, "type": "quantitative", "scale": {"domain": [-0.7, 137], "nice": false, "zero": false}, "axis": null}, "y2": {"datum": 6}}},
            {"data": {"values": [{}]}, "mark": {"type": "text", "fontSize": 18, "align": "left", "baseline": "alphabetic", "color": "#000000"},
             "encoding": {"x": {"datum": 17, "type": "quantitative", "scale": {"domain": [0, 274], "nice": false, "zero": false}, "axis": null}, "y": {"datum": 126.1, "type": "quantitative", "scale": {"domain": [-0.7, 137], "nice": false, "zero": false}, "axis": null}, "text": {"value": "Li|P-PE|Li"}}},
            {"data": {"values": [{}]}, "mark": {"type": "text", "font": "Open Sans", "fontSize": 40, "fontWeight": 600, "align": "center", "baseline": "alphabetic", "color": "#000000"},
             "encoding": {"x": {"datum": -36.6, "type": "quantitative", "scale": {"domain": [0, 274], "nice": false, "zero": false}, "axis": null}, "y": {"datum": 124.4, "type": "quantitative", "scale": {"domain": [-0.7, 137], "nice": false, "zero": false}, "axis": null}, "text": {"value": "b"}}}
          ]},
          {"resolve": {"scale": {"color": "independent", "shape": "independent"}},
           "layer": [
            {"data": {"values": [{}]}, "mark": {"type": "rect", "fill": "#ffffff", "stroke": "#000000", "strokeWidth": 1.3},
             "encoding": {
               "x": {"datum": 4, "type": "quantitative", "scale": {"domain": [4, 7], "range": [83, 217], "nice": false, "zero": false}, "axis": {"orient": "bottom", "offset": -27.3, "values": [4,5,6,7], "format": "d", "title": null, "labelFontSize": 18, "tickSize": -5, "labelPadding": 7, "domain": false}},
               "x2": {"datum": 7},
               "y": {"datum": 0, "type": "quantitative", "scale": {"domain": [0, 1.2], "range": [322.7, 221.7], "nice": false, "zero": false}, "axis": {"orient": "left", "offset": -83, "values": [0, 0.5, 1], "format": ".1f", "title": null, "labelFontSize": 18, "tickSize": -5, "labelPadding": 7, "domain": false}},
               "y2": {"datum": 1.2}
             }},
            {"data": {"name": "bi"}, "mark": {"type": "line", "strokeWidth": 1.5},
             "encoding": {
               "x": {"field": "zr", "type": "quantitative", "scale": {"domain": [4, 7], "range": [83, 217], "nice": false, "zero": false}},
               "y": {"field": "zi", "type": "quantitative", "scale": {"domain": [0, 1.2], "range": [322.7, 221.7], "nice": false, "zero": false}},
               "color": {"field": "series", "type": "nominal", "scale": {"domain": ["0 h","20 h","50 h","100 h","150 h","200 h","250 h","300 h","310 h"], "range": ["#000000","#F04848","#1F6FE0","#2E9F5A","#B07CE0","#CC9A06","#18C8CC","#7A4A45","#8A8A00"]}, "legend": null}
             }},
            {"data": {"name": "bi"}, "mark": {"type": "point", "filled": true, "size": 55, "opacity": 1},
             "encoding": {
               "x": {"field": "zr", "type": "quantitative", "scale": {"domain": [4, 7], "range": [83, 217], "nice": false, "zero": false}},
               "y": {"field": "zi", "type": "quantitative", "scale": {"domain": [0, 1.2], "range": [322.7, 221.7], "nice": false, "zero": false}},
               "color": {"field": "series", "type": "nominal", "scale": {"domain": ["0 h","20 h","50 h","100 h","150 h","200 h","250 h","300 h","310 h"], "range": ["#000000","#F04848","#1F6FE0","#2E9F5A","#B07CE0","#CC9A06","#18C8CC","#7A4A45","#8A8A00"]}, "legend": null},
               "shape": {"field": "series", "type": "nominal", "scale": {"domain": ["0 h","20 h","50 h","100 h","150 h","200 h","250 h","300 h","310 h"], "range": ["square","circle","triangle-up","triangle-down","diamond","triangle-left","triangle-right","circle","M0,-1L0.235,-0.324L0.951,-0.309L0.38,0.124L0.588,0.809L0,0.4L-0.588,0.809L-0.38,0.124L-0.951,-0.309L-0.235,-0.324Z"]}, "legend": null}
             }}
          ]}
        ]
      },
      {
        "width": 433, "height": 354,
        "resolve": {"axis": {"x": "independent", "y": "independent"}, "scale": {"color": "independent", "shape": "independent"}},
        "layer": [
          {"data": {"name": "c"}, "mark": {"type": "line", "strokeWidth": 1.5},
           "encoding": {
             "x": {"field": "zr", "type": "quantitative", "scale": {"domain": [0, 294], "nice": false, "zero": false}, "axis": {"values": [0,50,100,150,200,250], "title": "Z' (Ω)", "labelFontSize": 20, "titleFontSize": 26, "labelPadding": 14, "titlePadding": 8}},
             "y": {"field": "zi", "type": "quantitative", "scale": {"domain": [-0.3, 149.2], "nice": false, "zero": false}, "axis": {"values": [0,30,60,90,120], "title": "-Z\" (Ω)", "labelFontSize": 20, "titleFontSize": 26, "labelPadding": 16, "titlePadding": 6}},
             "color": {"field": "series", "type": "nominal", "scale": {"domain": ["0 h","20 h","50 h","100 h","150 h","200 h","250 h","300 h","350 h"], "range": ["#000000","#F04848","#1F6FE0","#2E9F5A","#B07CE0","#CC9A06","#18C8CC","#7A4A45","#8A8A00"]}, "legend": null}
           }},
          {"data": {"name": "c"}, "mark": {"type": "point", "filled": true, "size": 55, "opacity": 1},
           "encoding": {
             "x": {"field": "zr", "type": "quantitative", "scale": {"domain": [0, 294], "nice": false, "zero": false}, "axis": null},
             "y": {"field": "zi", "type": "quantitative", "scale": {"domain": [-0.3, 149.2], "nice": false, "zero": false}, "axis": null},
             "color": {"field": "series", "type": "nominal", "scale": {"domain": ["0 h","20 h","50 h","100 h","150 h","200 h","250 h","300 h","350 h"], "range": ["#000000","#F04848","#1F6FE0","#2E9F5A","#B07CE0","#CC9A06","#18C8CC","#7A4A45","#8A8A00"]}, "legend": null},
             "shape": {"field": "series", "type": "nominal", "scale": {"domain": ["0 h","20 h","50 h","100 h","150 h","200 h","250 h","300 h","350 h"], "range": ["square","circle","triangle-up","triangle-down","diamond","triangle-left","triangle-right","circle","M0,-1L0.235,-0.324L0.951,-0.309L0.38,0.124L0.588,0.809L0,0.4L-0.588,0.809L-0.38,0.124L-0.951,-0.309L-0.235,-0.324Z"]}, "legend": null}
           }},
          {"data": {"name": "c"}, "transform": [{"filter": "false"}], "mark": {"type": "point", "filled": true, "size": 55, "opacity": 1},
           "encoding": {
             "color": {"field": "series", "type": "nominal", "scale": {"domain": ["0 h","20 h","50 h","100 h","150 h","200 h","250 h","300 h","350 h"], "range": ["#000000","#F04848","#1F6FE0","#2E9F5A","#B07CE0","#CC9A06","#18C8CC","#7A4A45","#8A8A00"]},
               "legend": {"title": null, "orient": "none", "legendX": 340, "legendY": 12, "labelFontSize": 18, "labelOffset": 16, "rowPadding": 3, "symbolSize": 400, "symbolStrokeWidth": 0}},
             "shape": {"field": "series", "type": "nominal", "scale": {"domain": ["0 h","20 h","50 h","100 h","150 h","200 h","250 h","300 h","350 h"], "range": [
               "M-2,-0.08H-0.3V0.08H-2Z M0.3,-0.08H2V0.08H0.3Z M-0.44,-0.44H0.44V0.44H-0.44Z",
               "M-2,-0.08H-0.3V0.08H-2Z M0.3,-0.08H2V0.08H0.3Z M-0.5,0A0.5,0.5,0,1,1,0.5,0A0.5,0.5,0,1,1,-0.5,0Z",
               "M-2,-0.08H-0.3V0.08H-2Z M0.3,-0.08H2V0.08H0.3Z M0,-0.56L0.54,0.4L-0.54,0.4Z",
               "M-2,-0.08H-0.3V0.08H-2Z M0.3,-0.08H2V0.08H0.3Z M0,0.56L0.54,-0.4L-0.54,-0.4Z",
               "M-2,-0.08H-0.3V0.08H-2Z M0.3,-0.08H2V0.08H0.3Z M0,-0.6L0.44,0L0,0.6L-0.44,0Z",
               "M-2,-0.08H-0.3V0.08H-2Z M0.3,-0.08H2V0.08H0.3Z M-0.56,0L0.4,-0.54L0.4,0.54Z",
               "M-2,-0.08H-0.3V0.08H-2Z M0.3,-0.08H2V0.08H0.3Z M0.56,0L-0.4,-0.54L-0.4,0.54Z",
               "M-2,-0.08H-0.3V0.08H-2Z M0.3,-0.08H2V0.08H0.3Z M-0.5,0A0.5,0.5,0,1,1,0.5,0A0.5,0.5,0,1,1,-0.5,0Z",
               "M-2,-0.08H-0.3V0.08H-2Z M0.3,-0.08H2V0.08H0.3Z M0,-0.6L0.14,-0.2L0.57,-0.186L0.228,0.074L0.352,0.486L0,0.24L-0.352,0.486L-0.228,0.074L-0.57,-0.186L-0.14,-0.2Z"]},
               "legend": {"title": null, "orient": "none", "legendX": 340, "legendY": 12, "labelFontSize": 18, "labelOffset": 16, "rowPadding": 3, "symbolSize": 400, "symbolStrokeWidth": 0}}
           }},
          {"data": {"values": [{}]}, "mark": {"type": "text", "fontSize": 18, "align": "left", "baseline": "alphabetic", "color": "#000000"},
           "encoding": {"x": {"datum": 12.2, "type": "quantitative", "scale": {"domain": [0, 294], "nice": false, "zero": false}, "axis": {"orient": "bottom", "values": [25,75,125,175,225,275], "labels": false, "domain": false, "title": null, "tickSize": -4}}, "y": {"datum": 136.9, "type": "quantitative", "scale": {"domain": [-0.3, 149.2], "nice": false, "zero": false}, "axis": {"orient": "left", "values": [15,45,75,105,135], "labels": false, "domain": false, "title": null, "tickSize": -4}}, "text": {"value": "Li|AP-PE|Li"}}},
          {"data": {"values": [{}]}, "mark": {"type": "text", "font": "Open Sans", "fontSize": 40, "fontWeight": 600, "align": "center", "baseline": "alphabetic", "color": "#000000"},
           "encoding": {"x": {"datum": -39.4, "type": "quantitative", "scale": {"domain": [0, 294], "nice": false, "zero": false}, "axis": null}, "y": {"datum": 133.6, "type": "quantitative", "scale": {"domain": [-0.3, 149.2], "nice": false, "zero": false}, "axis": null}, "text": {"value": "c"}}}
        ]
      }
    ]
  }
]
}
